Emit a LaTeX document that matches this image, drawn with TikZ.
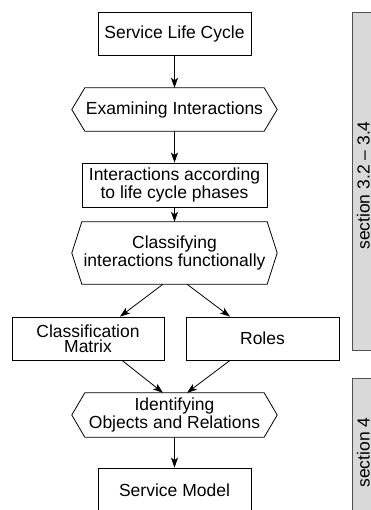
\documentclass[tikz,border=0pt]{standalone}
\usepackage{fontspec}
\setmainfont{Liberation Sans}
\usetikzlibrary{arrows.meta}
\definecolor{panelfill}{HTML}{D9D9D9}
\definecolor{panelline}{HTML}{505050}
\tikzset{
  box/.style={draw=black, line width=0.8pt, minimum width=153pt, minimum height=43pt, inner sep=0pt, align=center, font=\fontsize{17.5}{15}\selectfont},
  hexnode/.style={minimum width=205pt, inner sep=0pt, align=center, font=\fontsize{17.5}{15}\selectfont},
  hexline/.style={draw=black, line width=0.8pt, line join=miter},
  conn/.style={draw=black, line width=0.8pt, -{Stealth[length=10pt,width=7pt,inset=2.5pt]}},
  panel/.style={fill=panelfill, draw=panelline, line width=0.8pt},
  sidetext/.style={rotate=90, anchor=base, inner sep=0pt, font=\fontsize{17.5}{17.5}\selectfont}
}
\newcommand{\hexagonpath}[2]{%
  \path[hexline] ([xshift=#2]#1.north west) -- ([xshift=-#2]#1.north east) -- (#1.east)
    -- ([xshift=-#2]#1.south east) -- ([xshift=#2]#1.south west) -- (#1.west) -- cycle;}
\begin{document}
\begin{tikzpicture}[x=1pt,y=-1pt]
\useasboundingbox (0,0) rectangle (370,510);
% panels
\path[panel] (352,12) rectangle (380,350);
\path[panel] (352,378) rectangle (380,520);
\node[sidetext] (s1) at (369.5,185.5) {section 3.2 – 3.4};
\node[sidetext] (s2) at (369.5,452.5) {section 4};
% nodes
\node[box] (slc) at (174.5,33.5) {Service Life Cycle};
\node[hexnode, minimum height=43pt] (ei) at (174.5,109.5) {Examining Interactions};
\node[box, minimum width=185pt, minimum height=44pt] (ia) at (174.5,185) {Interactions according\\to life cycle phases};
\node[hexnode, minimum height=62pt] (ci) at (174.5,253) {Classifying\\interactions functionally};
\node[box, minimum width=152pt] (cm) at (88,338.5) {Classification\\Matrix};
\node[box] (ro) at (262.5,338.5) {Roles};
\node[hexnode, minimum height=44pt] (io) at (174.5,415) {Identifying\\Objects and Relations};
\node[box, minimum height=44pt] (sm) at (174.5,490) {Service Model};
\hexagonpath{ei}{13pt}
\hexagonpath{ci}{10pt}
\hexagonpath{io}{13pt}
% connectors
\draw[conn] (slc.south) -- (ei.north);
\draw[conn] (ei.south) -- (ia.north);
\draw[conn] (ia.south) -- (ci.north);
\draw[conn] ([xshift=-11.5pt]ci.south) -- ([xshift=32pt]cm.north);
\draw[conn] ([xshift=12.5pt]ci.south) -- ([xshift=-32.5pt]ro.north);
\draw[conn] ([xshift=34pt]cm.south) -- ([xshift=-11.5pt]io.north);
\draw[conn] ([xshift=-32.5pt]ro.south) -- ([xshift=12.5pt]io.north);
\draw[conn] (io.south) -- (sm.north);
\end{tikzpicture}
\end{document}
